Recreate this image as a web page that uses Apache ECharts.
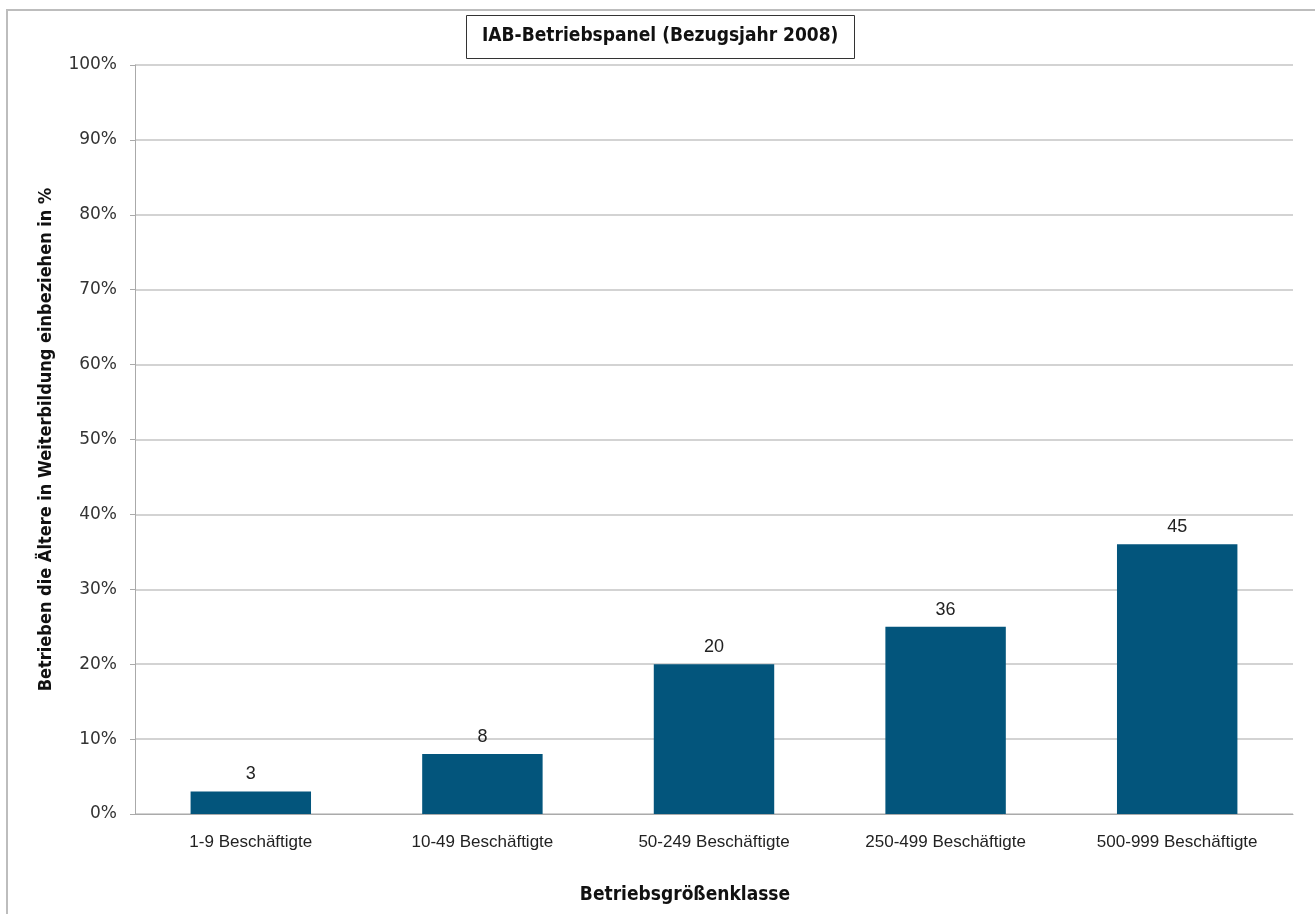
<!DOCTYPE html>
<html>
<head>
<meta charset="utf-8">
<script src="https://cdn.jsdelivr.net/npm/echarts@6/dist/echarts.min.js"></script>
<style>
  html, body { margin: 0; padding: 0; background: #fff; }
  #chart { width: 1315px; height: 914px; }
</style>
</head>
<body>
<div id="chart"></div>
<script>
// Betriebsgrößenklassen
const categories = ['1-9 Beschäftigte', '10-49 Beschäftigte', '50-249 Beschäftigte', '250-499 Beschäftigte', '500-999 Beschäftigte'];
// Balkenhöhen in % (wie im Bild gezeichnet)
const barValues = [3, 8, 20, 25, 36];
// Beschriftungen über den Balken (so im Original)
const labelValues = [3, 8, 20, 36, 45];
const yTicks = [0, 10, 20, 30, 40, 50, 60, 70, 80, 90, 100];

const chart = echarts.init(document.getElementById('chart'));
chart.setOption({
  backgroundColor: '#fff',
  animation: false,
  title: {
    text: 'IAB-Betriebspanel (Bezugsjahr 2008)',
    left: 466,
    top: 15,
    padding: [12, 16, 13, 16],
    borderColor: '#333',
    borderWidth: 1,
    backgroundColor: '#fff',
    textStyle: {
      fontFamily: 'DejaVu Sans Condensed',
      fontWeight: 'bold',
      fontSize: 19,
      color: '#111'
    }
  },
  graphic: [
    {
      // äußerer Rahmen
      type: 'rect',
      shape: { x: 7, y: 10, width: 1330, height: 940 },
      style: { fill: 'none', stroke: '#bdbdbd', lineWidth: 2 },
      z: -1
    }
  ],
  grid: { left: 135, right: 22, top: 65, bottom: 100 },
  xAxis: {
    type: 'category',
    data: categories,
    name: 'Betriebsgrößenklasse',
    nameLocation: 'middle',
    nameGap: 72,
    nameTextStyle: {
      fontFamily: 'DejaVu Sans Condensed',
      fontWeight: 'bold',
      fontSize: 19,
      color: '#111',
      padding: [0, 58, 0, 0]
    },
    axisLine: { lineStyle: { color: '#aaa' } },
    axisTick: { show: false },
    axisLabel: {
      fontFamily: 'Liberation Sans',
      fontSize: 17,
      color: '#222',
      margin: 20
    }
  },
  yAxis: {
    type: 'value',
    min: 0,
    max: 100,
    interval: 10,
    name: 'Betrieben die Ältere in Weiterbildung einbeziehen in %',
    nameLocation: 'middle',
    nameGap: 80,
    nameTextStyle: {
      fontFamily: 'DejaVu Sans Condensed',
      fontWeight: 'bold',
      fontSize: 18,
      color: '#111'
    },
    axisLine: { show: true, lineStyle: { color: '#aaa' } },
    axisTick: { show: true, length: 5, lineStyle: { color: '#aaa' } },
    axisLabel: {
      fontFamily: 'DejaVu Sans',
      fontSize: 17,
      color: '#333',
      margin: 18,
      formatter: v => (yTicks.includes(v) ? v + '%' : '')
    },
    splitLine: { lineStyle: { color: '#c4c4c4', width: 1.5 } }
  },
  series: [
    {
      type: 'bar',
      data: barValues,
      barWidth: '52%',
      itemStyle: { color: '#03557c' },
      label: {
        show: true,
        position: 'top',
        distance: 8,
        fontFamily: 'Liberation Sans',
        fontSize: 18,
        color: '#222',
        formatter: p => String(labelValues[p.dataIndex])
      }
    }
  ]
});
</script>
</body>
</html>
